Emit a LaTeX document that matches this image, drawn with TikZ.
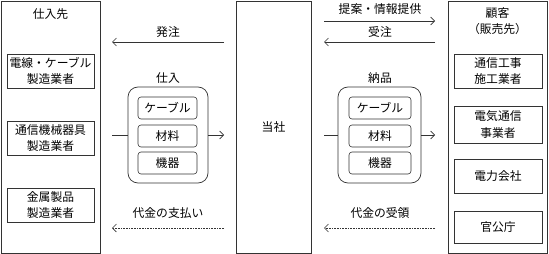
\documentclass[tikz,border=0pt]{standalone}
\usepackage{fontspec}
\setmainfont{Noto Sans CJK JP}
\usetikzlibrary{arrows.meta,positioning}
\definecolor{ink}{HTML}{333333}
\tikzset{
  outer/.style={
    draw=ink, line width=0.7pt, minimum width=99pt, minimum height=252pt,
    inner sep=0pt
  },
  firm/.style={
    draw=ink, line width=0.6pt, minimum width=87pt, minimum height=34pt,
    align=center, inner sep=1pt, font=\fontsize{11.8}{16.5}\selectfont
  },
  group/.style={
    draw=ink, line width=0.7pt, rounded corners=10pt,
    minimum height=96pt, inner sep=0pt
  },
  item/.style={
    draw=ink, line width=0.6pt, rounded corners=3pt,
    minimum height=22pt, inner sep=0pt, font=\fontsize{11.8}{13}\selectfont
  },
  lbl/.style={font=\fontsize{11.8}{16}\selectfont, align=center, inner sep=0pt},
  arr/.style={-{Straight Barb[length=4pt,width=8pt]}, draw=ink, line width=0.6pt},
  link/.style={draw=ink, line width=0.6pt},
  pay/.style={arr, densely dotted}
}

\begin{document}
\begin{tikzpicture}[x=1pt, y=-1pt]
    \useasboundingbox (0,0) rectangle (549,254);

    % supplier side
    \node[outer] (sup) at (50.5,127) {};
    \node[lbl] (suplbl) at (50.5,14) {仕入先};
    \node[firm] (s1) at (50.5,71) {電線・ケーブル\\製造業者};
    \node[firm] (s2) at (50.5,138) {通信機械器具\\製造業者};
    \node[firm] (s3) at (50.5,205) {金属製品\\製造業者};

    % our company
    \node[outer, minimum width=75pt, lbl] (sha) at (273.5,127) {当社};

    % customer side
    \node[outer] (cus) at (497.5,127) {};
    \node[lbl] (cuslbl) at (497.5,21) {顧客\\（販売先）};
    \node[firm, minimum width=88pt] (c1) at (498,71) {通信工事\\施工業者};
    \node[firm, minimum width=88pt, minimum height=37pt] (c2) at (498,124.5) {電気通信\\事業者};
    \node[firm, minimum width=88pt] (c3) at (498,176) {電力会社};
    \node[firm, minimum width=88pt, minimum height=32pt] (c4) at (498,227) {官公庁};

    % purchase group
    \node[group, minimum width=80pt] (gin) at (168,135) {};
    \node[lbl] (ginlbl) at (168,78) {仕入};
    \node[item, minimum width=59pt] (gi1) at (167.5,108) {ケーブル};
    \node[item, minimum width=59pt] (gi2) at (167.5,136) {材料};
    \node[item, minimum width=59pt] (gi3) at (167.5,163) {機器};

    % delivery group
    \node[group, minimum width=83pt] (gout) at (379.5,135) {};
    \node[lbl] (goutlbl) at (380,78) {納品};
    \node[item, minimum width=62pt] (go1) at (380,108) {ケーブル};
    \node[item, minimum width=62pt] (go2) at (380,136) {材料};
    \node[item, minimum width=62pt] (go3) at (380,163) {機器};

    % arrow ends
    \coordinate (la) at (112,0);
    \coordinate (lb) at (224,0);
    \coordinate (ra) at (324,0);
    \coordinate (rb) at (435,0);

    \draw[link] (la |- gin.west) -- (gin.west);
    \draw[arr] (gin.east) -- (lb |- gin.east);
    \draw[link] (ra |- gout.west) -- (gout.west);
    \draw[arr] (gout.east) -- (rb |- gout.east);

    \coordinate (yorder) at (0,42);
    \coordinate (yprop) at (0,21);
    \coordinate (ypay) at (0,228);
    \draw[arr] (lb |- yorder) -- (la |- yorder);
    \node[lbl] (order) at (168,32) {発注};
    \draw[arr] (ra |- yprop) -- (rb |- yprop);
    \node[lbl] (prop) at (380,9) {提案・情報提供};
    \draw[arr] (rb |- yorder) -- (ra |- yorder);
    \node[lbl] (recv) at (380,32) {受注};

    \draw[pay] (lb |- ypay) -- (la |- ypay);
    \node[lbl] (paid) at (168,213) {代金の支払い};
    \draw[pay] (rb |- ypay) -- (ra |- ypay);
    \node[lbl] (got) at (380,213) {代金の受領};
\end{tikzpicture}
\end{document}
